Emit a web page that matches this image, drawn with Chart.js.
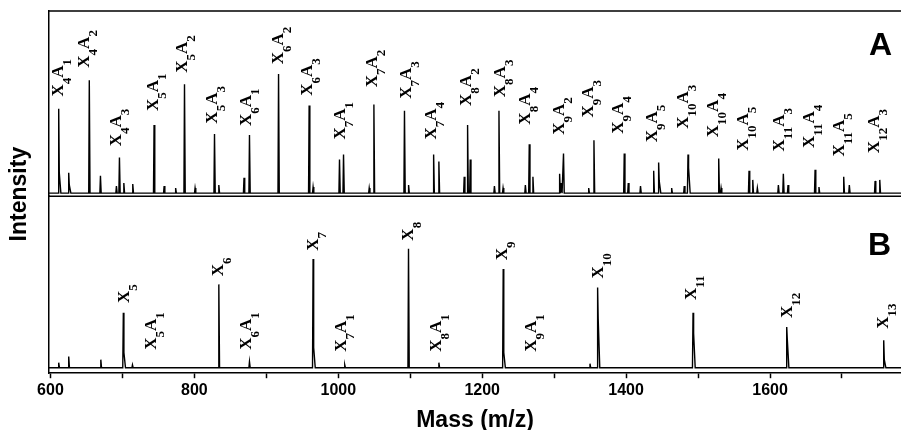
<!DOCTYPE html>
<html>
<head>
<meta charset="utf-8">
<script src="https://cdn.jsdelivr.net/npm/chart.js@4.4.1/dist/chart.umd.min.js"></script>
<style>
  html, body { margin: 0; padding: 0; background: #fff; }
</style>
</head>
<body>
<canvas id="spec" width="901" height="430"></canvas>
<script>
// panel A: peak positions (m/z), heights and right shoulders
const peaksAMass = [611.5, 625.4, 654, 669.5, 691.7, 695.9, 702, 714.4, 744, 758,
    774, 786.3, 801, 828, 834, 869, 876.6, 917, 959.5, 965,
    1001.7, 1007.3, 1043, 1049.5, 1092, 1097.7, 1132.5, 1139.8, 1175, 1179.7,
    1183.4, 1217, 1223.3, 1229, 1260, 1265.4, 1270.5, 1307.6, 1310, 1313,
    1348, 1355.3, 1397.4, 1403, 1420, 1438.3, 1445.2, 1463.3, 1480.8, 1486,
    1528.7, 1532, 1570.8, 1576, 1582.4, 1611.6, 1618.5, 1625, 1662.6, 1668,
    1702.4, 1710.2, 1746, 1752.5];
const peaksAHeight = [83, 20, 111, 17, 7, 35, 10, 9, 67, 7,
    5, 107, 5, 58, 8, 15, 57, 117, 86, 6,
    33, 38, 5, 87, 81, 8, 38, 31, 16, 67,
    33, 7, 81, 5, 8, 48, 16, 19, 10, 39,
    5, 52, 39, 10, 7, 22, 30, 5, 7, 38,
    34, 5, 22, 13, 5, 8, 19, 8, 23, 6,
    16, 8, 12, 13];
const peaksATail = [20, 8, 0, 0, 0, 0, 0, 0, 0, 0,
    0, 0, 0, 0, 0, 0, 0, 0, 0, 0,
    0, 0, 0, 0, 0, 0, 0, 0, 0, 0,
    0, 0, 0, 0, 0, 0, 0, 0, 0, 0,
    0, 0, 0, 0, 0, 0, 12, 0, 0, 25,
    0, 0, 0, 0, 0, 0, 0, 0, 0, 0,
    0, 0, 0, 0];

// panel B
const peaksBMass = [611.5, 625.4, 670, 701.3, 714, 834, 876.6, 965, 1009, 1097.6,
    1139.8, 1229.2, 1349.8, 1360.4, 1493, 1623.2, 1758];
const peaksBHeight = [5, 11, 8, 54, 3, 82, 6, 107, 3, 117,
    5, 97, 4, 79, 54, 40, 27];
const peaksBTail = [0, 0, 0, 15, 0, 0, 0, 20, 0, 0,
    0, 15, 0, 48, 34, 28, 8];

// peak labels: name, m/z of label centre, intensity level of label foot
const labelsAText = ['X4A1', 'X4A2', 'X4A3', 'X5A1', 'X5A2', 'X5A3', 'X6A1', 'X6A2', 'X6A3',
    'X7A1', 'X7A2', 'X7A3', 'X7A4', 'X8A2', 'X8A3', 'X8A4', 'X9A2', 'X9A3', 'X9A4',
    'X9A5', 'X10A3', 'X10A4', 'X10A5', 'X11A3', 'X11A4', 'X11A5', 'X12A3'];
const labelsAMass = [616.7, 652.3, 696.3, 747.4, 788.1, 829.4, 878.0, 921.2, 961.9,
    1007.8, 1052.3, 1099.5, 1134.3, 1183.0, 1230.2, 1265.0, 1312.6, 1352.1, 1393.8,
    1441.5, 1484.2, 1525.9, 1567.6, 1618.5, 1659.4, 1701.1, 1750.6];
const labelsALevel = [95, 123.3, 46, 80.7, 118.3, 68.3, 66, 126.7, 95.7,
    52.7, 104, 92.7, 52.7, 85.7, 94.3, 67.3, 57.3, 74.3, 58.3,
    50, 63.3, 55, 41.7, 41, 44.3, 36, 39.3];

const labelsBText = ['X5', 'X5A1', 'X6', 'X6A1', 'X7', 'X7A1', 'X8', 'X8A1', 'X9', 'X9A1',
    'X10', 'X11', 'X12', 'X13'];
const labelsBMass = [707.4, 745, 838.7, 878, 969.8, 1009, 1102.7, 1141, 1233, 1273,
    1366, 1495.7, 1629, 1762];
const labelsBLevel = [63.7, 17.7, 90, 17.7, 115, 15.7, 125, 15.7, 105.7, 15.7,
    87.7, 66.7, 49, 38.4];

const xTicks = [600, 700, 800, 900, 1000, 1100, 1200, 1300, 1400, 1500, 1600, 1700];

function buildSpectrum(masses, heights, tails) {
    const pts = [{x: 598, y: 0}];
    masses.forEach((m, i) => {
        pts.push({x: m - 0.8, y: 0});
        pts.push({x: m, y: heights[i]});
        if (tails[i] > 0) {
            pts.push({x: m + 0.8, y: tails[i]});
            pts.push({x: m + 3, y: 0});
        } else {
            pts.push({x: m + 1, y: 0});
        }
    });
    pts.push({x: 1782, y: 0});
    return pts;
}

function drawPeakLabel(ctx, text, px, py) {
    const parts = text.match(/[A-Z]|\d+/g);
    ctx.save();
    ctx.translate(px, py);
    ctx.rotate(-Math.PI / 2);
    ctx.fillStyle = '#000';
    ctx.textBaseline = 'alphabetic';
    let cx = 0;
    parts.forEach(p => {
        const sub = /\d/.test(p);
        ctx.font = sub ? 'bold 13px "Liberation Serif"' : 'bold 17px "Liberation Serif"';
        ctx.fillText(p, cx, sub ? 9 : 1);
        cx += ctx.measureText(p).width;
    });
    ctx.restore();
}

const decor = {
    id: 'decor',
    afterDatasetsDraw(chart) {
        const {ctx, chartArea, scales} = chart;
        const x = scales.x, yA = scales.yA, yB = scales.yB;
        ctx.save();
        // frame top and panel divider
        ctx.strokeStyle = '#000';
        ctx.lineWidth = 1.5;
        ctx.beginPath();
        ctx.moveTo(chartArea.left, chartArea.top);
        ctx.lineTo(chartArea.right, chartArea.top);
        ctx.moveTo(chartArea.left, yA.bottom);
        ctx.lineTo(chartArea.right, yA.bottom);
        ctx.stroke();

        labelsAText.forEach((t, i) => {
            drawPeakLabel(ctx, t, x.getPixelForValue(labelsAMass[i]), yA.getPixelForValue(labelsALevel[i]));
        });
        labelsBText.forEach((t, i) => {
            drawPeakLabel(ctx, t, x.getPixelForValue(labelsBMass[i]), yB.getPixelForValue(labelsBLevel[i]));
        });

        ctx.fillStyle = '#000';
        ctx.font = 'bold 32px "Liberation Sans"';
        ctx.textAlign = 'right';
        ctx.textBaseline = 'alphabetic';
        ctx.fillText('A', chartArea.right - 9, yA.top + 44);
        ctx.fillText('B', chartArea.right - 10, yB.top + 59);

        // shared y title
        ctx.save();
        ctx.translate(20, (chartArea.top + chartArea.bottom) / 2 + 2);
        ctx.rotate(-Math.PI / 2);
        ctx.textAlign = 'center';
        ctx.textBaseline = 'middle';
        ctx.font = 'bold 23px "Liberation Sans"';
        ctx.fillText('Intensity', 0, 0);
        ctx.restore();
        ctx.restore();
    }
};

new Chart(document.getElementById('spec'), {
    type: 'scatter',
    data: {
        datasets: [{
            data: buildSpectrum(peaksAMass, peaksAHeight, peaksATail),
            yAxisID: 'yA',
            showLine: true,
            borderColor: '#000',
            borderWidth: 1.4,
            pointRadius: 0,
            tension: 0
        }, {
            data: buildSpectrum(peaksBMass, peaksBHeight, peaksBTail),
            yAxisID: 'yB',
            showLine: true,
            borderColor: '#000',
            borderWidth: 1.4,
            pointRadius: 0,
            tension: 0
        }]
    },
    options: {
        responsive: false,
        animation: false,
        layout: { padding: { left: 41, top: 11, right: 0, bottom: -4 } },
        plugins: { legend: { display: false }, tooltip: { enabled: false } },
        scales: {
            x: {
                type: 'linear',
                position: 'bottom',
                min: 598,
                max: 1782,
                afterBuildTicks: axis => { axis.ticks = xTicks.map(v => ({value: v})); },
                ticks: {
                    autoSkip: false,
                    maxRotation: 0,
                    padding: 3,
                    color: '#000',
                    font: { family: 'Liberation Sans', size: 16, weight: 'bold' },
                    callback: v => (v % 200 === 0 ? String(v) : '')
                },
                grid: { drawOnChartArea: false, drawTicks: true, tickLength: 5, color: '#000', tickWidth: 1.5 },
                border: { color: '#000', width: 1.5 },
                title: {
                    display: true,
                    text: 'Mass (m/z)',
                    color: '#000',
                    font: { family: 'Liberation Sans', size: 23, weight: 'bold' },
                    padding: { top: 3, bottom: 0 }
                }
            },
            yB: {
                type: 'linear',
                position: 'left',
                stack: 'spec',
                stackWeight: 174,
                min: -5.3,
                max: 168.7,
                ticks: { display: false },
                grid: { display: false },
                border: { color: '#000', width: 1.5 }
            },
            yA: {
                type: 'linear',
                position: 'left',
                stack: 'spec',
                stackWeight: 182,
                min: -3,
                max: 179,
                ticks: { display: false },
                grid: { display: false },
                border: { color: '#000', width: 1.5 }
            }
        }
    },
    plugins: [decor]
});
</script>
</body>
</html>
